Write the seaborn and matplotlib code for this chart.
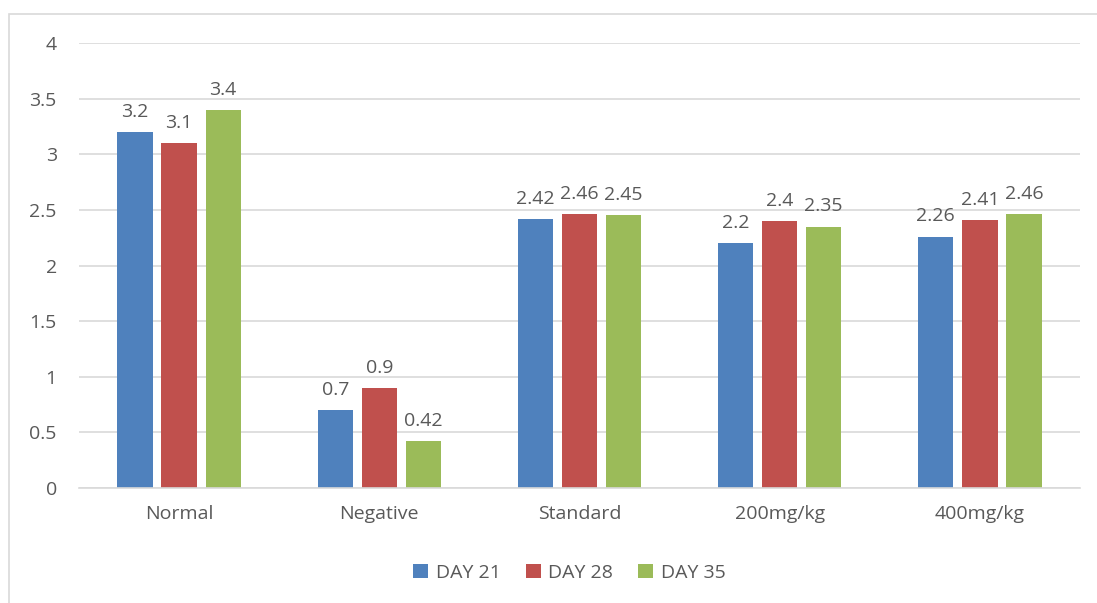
import matplotlib
matplotlib.use("Agg")
import matplotlib.pyplot as plt
import seaborn as sns
import pandas as pd
from matplotlib.patches import Rectangle

categories = ["Normal", "Negative", "Standard", "200mg/kg", "400mg/kg"]
series_names = ["DAY 21", "DAY 28", "DAY 35"]
day21 = [3.2, 0.7, 2.42, 2.2, 2.26]
day28 = [3.1, 0.9, 2.46, 2.4, 2.41]
day35 = [3.4, 0.42, 2.45, 2.35, 2.46]
colors = ["#4F81BD", "#C0504D", "#9BBB59"]
yticks = [0, 0.5, 1, 1.5, 2, 2.5, 3, 3.5, 4]

rows = []
for name, vals in zip(series_names, [day21, day28, day35]):
    for c, v in zip(categories, vals):
        rows.append({"cat": c, "series": name, "value": v})
df = pd.DataFrame(rows)

sns.set_theme(style="white")
plt.rcParams["font.family"] = ["Open Sans", "DejaVu Sans"]
txt = "#595959"
fs = 14

fig = plt.figure(figsize=(10.97, 6.03), dpi=100)
ax = fig.add_axes([0.072, 0.1907, 0.9125, 0.738])
sns.barplot(data=df, x="cat", y="value", hue="series", palette=colors,
            order=categories, hue_order=series_names, width=0.66, gap=0.2,
            saturation=1, ax=ax, legend=True, linewidth=0)

ax.set_ylim(0, 4)
ax.set_yticks(yticks)
ax.set_yticklabels([f"{t:g}" for t in yticks])
ax.set_xlim(-0.5, len(categories) - 0.5)
ax.yaxis.grid(True, color="#D9D9D9", linewidth=1.2)
ax.set_axisbelow(True)
for s in ["top", "right", "left"]:
    ax.spines[s].set_visible(False)
ax.spines["bottom"].set_color("#D9D9D9")
ax.spines["bottom"].set_linewidth(1.2)
ax.set_xlabel("")
ax.set_ylabel("")
ax.tick_params(axis="both", length=0, labelsize=fs, colors=txt)
ax.tick_params(axis="x", pad=12)
ax.tick_params(axis="y", pad=16)

for cont in ax.containers:
    ax.bar_label(cont, labels=[f"{v:g}" for v in cont.datavalues],
                 padding=8, fontsize=fs, color=txt)

handles, labels = ax.get_legend_handles_labels()
ax.legend(handles, labels, loc="center", bbox_to_anchor=(0.49, -0.19),
          ncol=3, frameon=False, fontsize=fs, labelcolor=txt,
          handlelength=0.75, handleheight=0.75, handletextpad=0.4,
          columnspacing=1.3)

fig.patches.append(Rectangle((9 / 1097, -0.1), 1.2, 1 - 14 / 603 + 0.1,
                             transform=fig.transFigure, fill=False,
                             edgecolor="#D9D9D9", linewidth=1.2))

fig.savefig("out.png", dpi=100)
